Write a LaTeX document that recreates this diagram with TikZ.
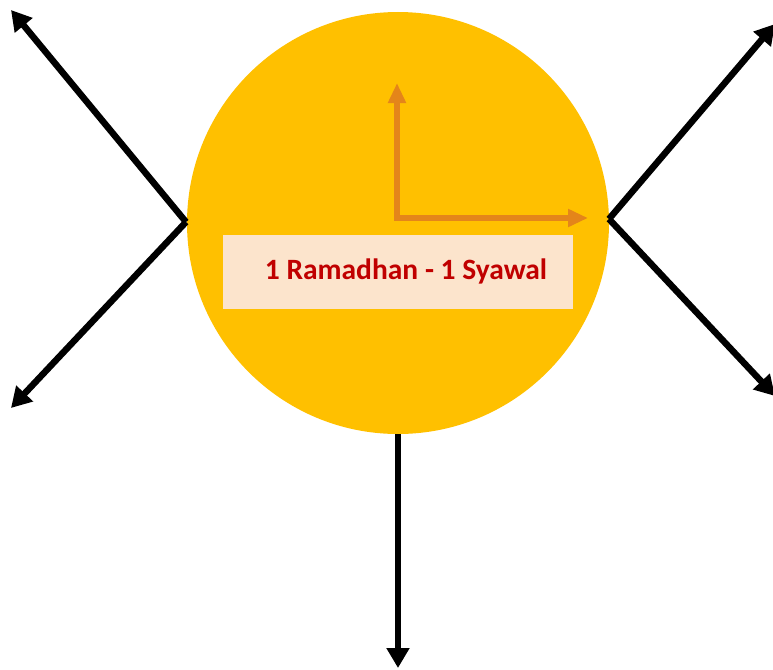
\documentclass[tikz,border=0pt]{standalone}
\usepackage{fontspec}
\setmainfont{Carlito}
\usetikzlibrary{arrows.meta}
\definecolor{sun}{HTML}{FFC000}
\definecolor{axis}{HTML}{E4851A}
\definecolor{boxfill}{HTML}{FCE4CC}
\definecolor{txt}{HTML}{C00000}
\begin{document}
\begin{tikzpicture}[x=1pt,y=-1pt,
  blackarrow/.style={draw=black,line width=6.5pt,-{Triangle[length=20pt,width=22pt]}},
  axisarrow/.style={draw=axis,line width=6pt,-{Triangle[length=20pt,width=17pt]}}]
\useasboundingbox (0,0) rectangle (773,669);
\fill[sun] (398,223) circle[radius=211];
\node[circle,minimum size=422pt,inner sep=0pt] (sunc) at (398,223) {};
\node[fill=boxfill,minimum width=350pt,minimum height=74pt,inner sep=0pt] (lbl) at (398,272) {};
\node[text=txt,font=\fontsize{29.5}{34}\selectfont\bfseries,inner sep=0pt] (lbltext) at ([xshift=8pt,yshift=1pt]lbl.center) {1 Ramadhan - 1 Syawal};
% orange axes
\coordinate (o) at (397,218);
\coordinate (oup) at (397,83);
\coordinate (oright) at (588,218);
\draw[axisarrow] ([yshift=3pt]o) -- (oup);
\draw[axisarrow] ([xshift=-3pt]o) -- (oright);
% left V
\coordinate (lv) at (186,222);
\coordinate (lt) at (11,10);
\coordinate (lb) at (11,408);
\draw[blackarrow] (lv) -- (lt);
\draw[blackarrow] (lv) -- (lb);
% right V
\coordinate (rv) at (609,219);
\coordinate (rt) at (775,24);
\coordinate (rb) at (775,396);
\draw[blackarrow] (rv) -- (rt);
\draw[blackarrow] (rv) -- (rb);
% bottom
\coordinate (bt) at (398,668);
\draw[blackarrow] (sunc.south) -- (bt);
\end{tikzpicture}
\end{document}
